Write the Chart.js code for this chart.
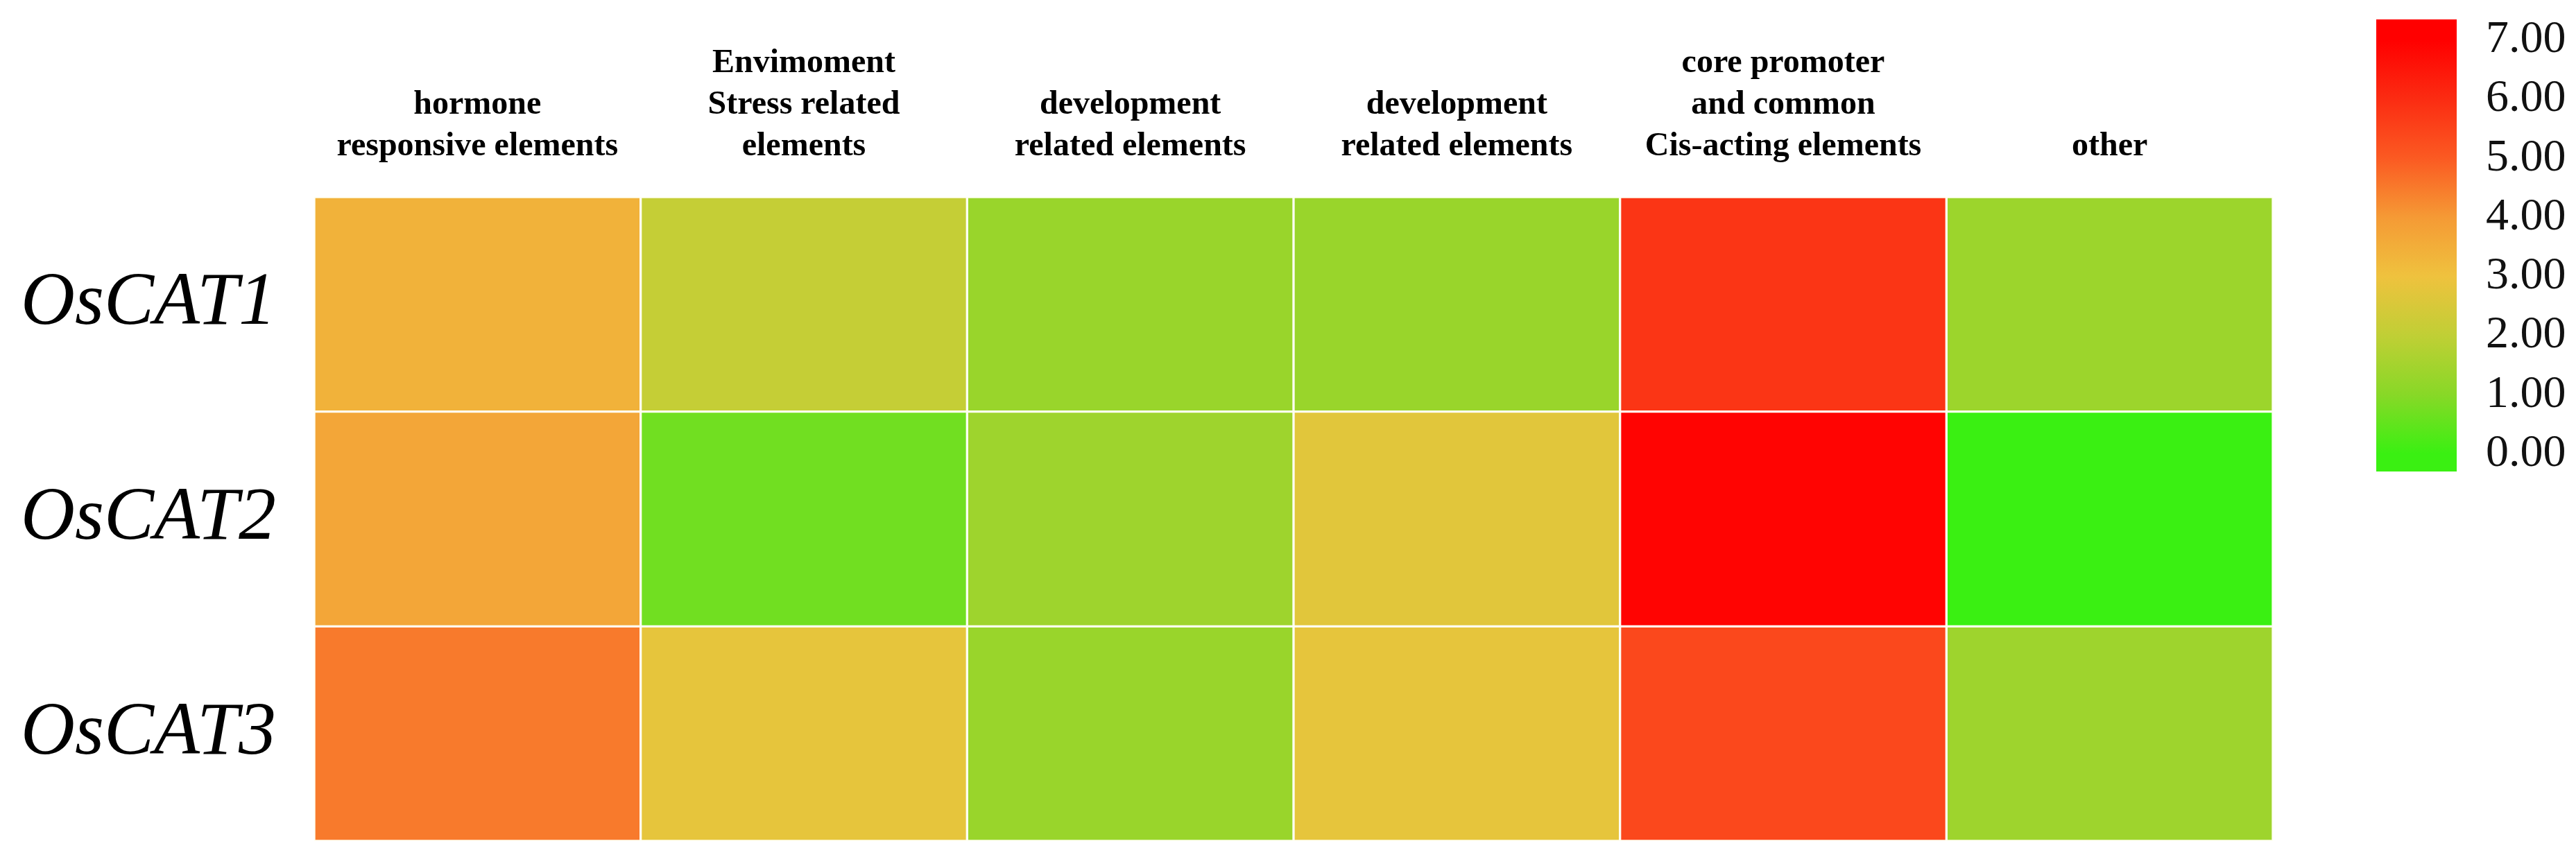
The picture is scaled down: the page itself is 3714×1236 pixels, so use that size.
<!DOCTYPE html>
<html>
<head>
<meta charset="utf-8">
<script src="https://cdn.jsdelivr.net/npm/chart.js@4.4.1/dist/chart.umd.min.js"></script>
<style>
  body { margin: 0; background: #fff; }
  #wrap { position: relative; width: 3714px; height: 1236px; }
  #heat { position: absolute; left: 0; top: 0; }
  #bar { position: absolute; left: 3380px; top: 0; }
</style>
</head>
<body>
<div id="wrap">
  <canvas id="heat" width="3714" height="1236"></canvas>
  <canvas id="bar" width="334" height="720"></canvas>
</div>
<script>
// column headers (multi-line)
var columns = [
  ["hormone", "responsive elements"],
  ["Envimoment", "Stress related", "elements"],
  ["development", "related elements"],
  ["development", "related elements"],
  ["core promoter", "and common", "Cis-acting elements"],
  ["other"]
];
var genes = ["OsCAT1", "OsCAT2", "OsCAT3"];

// values per gene, one per column
var osCAT1 = [3.4, 2.1, 1.3, 1.3, 5.8, 1.35];
var osCAT2 = [3.7, 0.7, 1.4, 2.7, 6.9, 0.0];
var osCAT3 = [4.5, 2.8, 1.3, 2.8, 5.4, 1.4];
var values = [osCAT1, osCAT2, osCAT3];

// colour scale
var scaleTicks = [0, 1, 2, 3, 4, 5, 6, 7];
var scaleColors = ["#3af012", "#88d827", "#c0cf35", "#efc23e", "#f59a35", "#fb5a22", "#fb2c12", "#ff0000"];

function hexRgb(h) {
  return [parseInt(h.substr(1, 2), 16), parseInt(h.substr(3, 2), 16), parseInt(h.substr(5, 2), 16)];
}

function heatColor(v) {
  var n = scaleTicks.length;
  if (v <= scaleTicks[0]) return scaleColors[0];
  if (v >= scaleTicks[n - 1]) return scaleColors[n - 1];
  for (var i = 0; i < n - 1; i++) {
    if (v >= scaleTicks[i] && v <= scaleTicks[i + 1]) {
      var t = (v - scaleTicks[i]) / (scaleTicks[i + 1] - scaleTicks[i]);
      var a = hexRgb(scaleColors[i]), b = hexRgb(scaleColors[i + 1]);
      var c = a.map(function(x, k) { return Math.round(x + (b[k] - x) * t); });
      return "rgb(" + c.join(",") + ")";
    }
  }
}

// no extra room for half labels at the ends of an axis
function noEndPadding(scale) {
  scale.paddingTop = 0;
  scale.paddingBottom = 0;
}

// one stacked dataset per column, every cell is one unit wide
var datasets = [];
for (var j = 0; j < columns.length; j++) {
  datasets.push({
    label: columns[j].join(" "),
    data: genes.map(function() { return 1; }),
    backgroundColor: values.map(function(row) { return heatColor(row[j]); }),
    borderColor: "rgba(255,255,240,0.85)",
    borderWidth: 2,
    borderSkipped: false,
    barPercentage: 1,
    categoryPercentage: 1
  });
}

var heatChart = new Chart(document.getElementById("heat").getContext("2d"), {
  type: "bar",
  data: { labels: genes, datasets: datasets },
  options: {
    indexAxis: "y",
    responsive: false,
    animation: false,
    devicePixelRatio: 1,
    layout: { padding: { left: 0, top: 0, right: 437, bottom: 23 } },
    plugins: { legend: { display: false }, tooltip: { enabled: false } },
    scales: {
      x: {
        type: "linear",
        stacked: true,
        position: "top",
        min: 0,
        max: columns.length,
        grid: { display: false, drawTicks: false },
        border: { display: false },
        afterBuildTicks: function(scale) {
          scale.ticks = columns.map(function(c, i) { return { value: i + 0.5 }; });
        },
        afterFit: function(scale) { scale.height = 284; },
        ticks: {
          autoSkip: false,
          maxRotation: 0,
          padding: 42,
          color: "#000",
          font: { family: "Liberation Serif", weight: "bold", size: 48, lineHeight: 1.25 },
          callback: function(v, i) { return columns[i]; }
        }
      },
      y: {
        stacked: true,
        grid: { display: false, drawTicks: false },
        border: { display: false },
        afterFit: function(scale) { scale.width = 453; noEndPadding(scale); },
        ticks: {
          padding: 55,
          color: "#000",
          font: { family: "Liberation Serif", style: "italic", size: 108 }
        }
      }
    }
  }
});

// colour bar legend
var barLow = -0.3, barHigh = 7.35;
var barChart = new Chart(document.getElementById("bar").getContext("2d"), {
  type: "bar",
  data: {
    labels: [""],
    datasets: [{
      data: [[barLow, barHigh]],
      barPercentage: 1,
      categoryPercentage: 1,
      borderSkipped: false,
      backgroundColor: function(ctx) {
        var chart = ctx.chart;
        if (!chart.chartArea) return scaleColors[0];
        var ys = chart.scales.y;
        var g = chart.ctx.createLinearGradient(0, ys.getPixelForValue(scaleTicks[0]), 0, ys.getPixelForValue(scaleTicks[scaleTicks.length - 1]));
        var span = scaleTicks[scaleTicks.length - 1] - scaleTicks[0];
        scaleTicks.forEach(function(t, i) { g.addColorStop((t - scaleTicks[0]) / span, scaleColors[i]); });
        return g;
      }
    }]
  },
  options: {
    responsive: false,
    animation: false,
    devicePixelRatio: 1,
    layout: { padding: { left: 46, top: 28, right: 0, bottom: 40 } },
    plugins: { legend: { display: false }, tooltip: { enabled: false } },
    scales: {
      x: { display: false },
      y: {
        position: "right",
        min: barLow,
        max: barHigh,
        grid: { display: false, drawTicks: false },
        border: { display: false },
        afterBuildTicks: function(scale) {
          scale.ticks = scaleTicks.map(function(t) { return { value: t }; });
        },
        afterFit: function(scale) { scale.width = 172; noEndPadding(scale); },
        ticks: {
          padding: 42,
          color: "#111",
          font: { family: "Liberation Serif", size: 66 },
          callback: function(v) { return Number(v).toFixed(2); }
        }
      }
    }
  }
});
</script>
</body>
</html>
